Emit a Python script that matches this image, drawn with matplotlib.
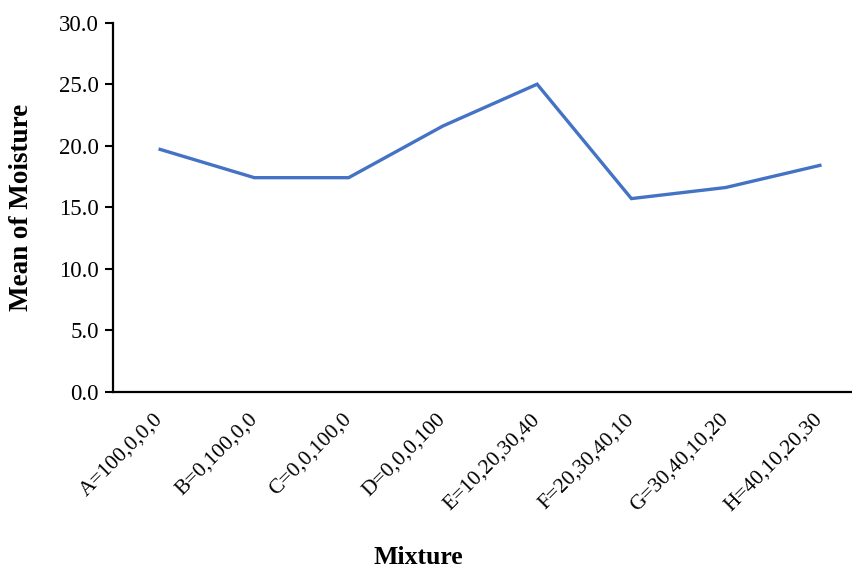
import matplotlib.pyplot as plt
import numpy as np

mixtures = ["A=100,0,0,0", "B=0,100,0,0", "C=0,0,100,0", "D=0,0,0,100",
            "E=10,20,30,40", "F=20,30,40,10", "G=30,40,10,20", "H=40,10,20,30"]
moisture = [19.7, 17.4, 17.4, 21.6, 25.0, 15.7, 16.6, 18.4]

plt.rcParams['font.family'] = ['Liberation Serif', 'DejaVu Serif']

fig = plt.figure(figsize=(8.53, 5.70), dpi=100)
ax = fig.add_axes([113 / 853, 178.3 / 570, 754 / 853, 369 / 570])

x = np.arange(len(mixtures))
ax.plot(x, moisture, color='#4472C4', linewidth=2.4, solid_joinstyle='miter')

ax.set_xlim(-0.5, len(mixtures) - 0.5)
ax.set_ylim(0, 30)
ax.set_yticks(np.arange(0, 30.1, 5))
ax.set_yticklabels([f"{v:.1f}" for v in np.arange(0, 30.1, 5)])
ax.set_xticks(x)
ax.set_xticklabels(mixtures, rotation=45, ha='right', va='center',
                   rotation_mode='anchor')

ax.tick_params(axis='y', direction='out', length=6, width=1.5, labelsize=16.5, pad=4)
ax.tick_params(axis='x', length=0, labelsize=15.5, pad=18)

for side in ['top', 'right']:
    ax.spines[side].set_visible(False)
for side in ['left', 'bottom']:
    ax.spines[side].set_linewidth(1.6)
    ax.spines[side].set_color('black')

fig.text(22 / 853, 0.637, "Mean of Moisture", rotation=90, ha='center', va='center',
         fontsize=19.5, fontweight='bold')
fig.text(418 / 853, 13 / 570, "Mixture", ha='center', va='center',
         fontsize=18.5, fontweight='bold')

fig.savefig("out.png", dpi=100)
